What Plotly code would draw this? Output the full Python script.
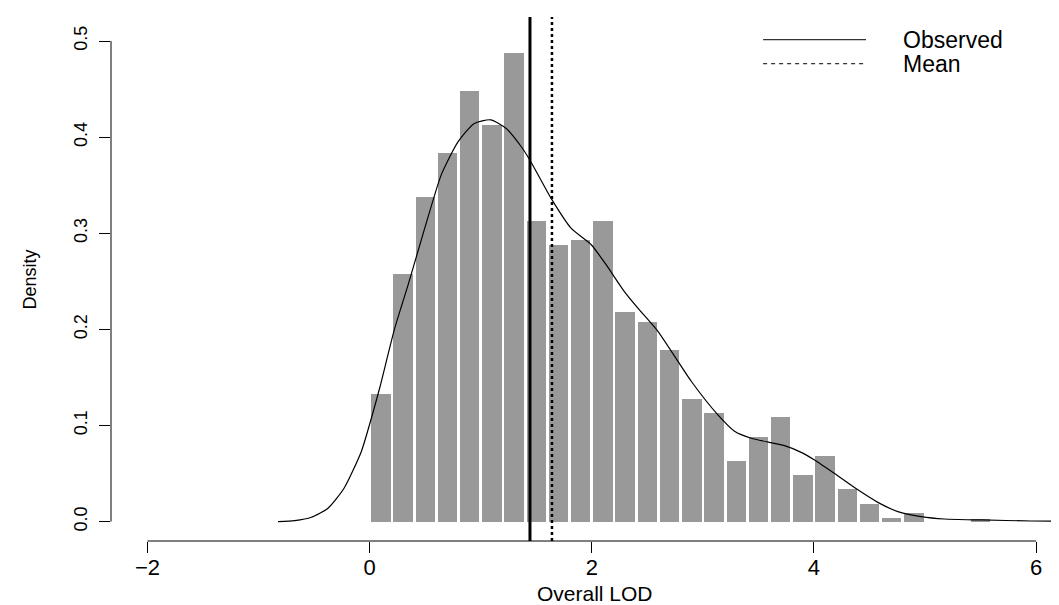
import plotly.graph_objects as go

# ---- data ----
bin_left = [0.0, 0.2, 0.4, 0.6, 0.8, 1.0, 1.2, 1.4, 1.6, 1.8, 2.0, 2.2, 2.4, 2.6,
            2.8, 3.0, 3.2, 3.4, 3.6, 3.8, 4.0, 4.2, 4.4, 4.6, 4.8, 5.0, 5.2, 5.4]
density_hist = [0.133, 0.258, 0.338, 0.383, 0.448, 0.413, 0.488, 0.313, 0.288, 0.293,
                0.313, 0.218, 0.208, 0.179, 0.128, 0.113, 0.0635, 0.0884, 0.1085, 0.0485,
                0.068, 0.0336, 0.0183, 0.0034, 0.0086, 0.0, 0.0, 0.003]
bin_width = 0.2

kde_x = [-0.825, -0.675, -0.525, -0.375, -0.231, -0.075, 0.015, 0.09, 0.225, 0.345,
         0.495, 0.645, 0.795, 0.939, 1.089, 1.23, 1.365, 1.443, 1.635, 1.815, 1.995,
         2.13, 2.295, 2.415, 2.595, 2.895, 3.135, 3.285, 3.435, 3.735, 3.885, 4.005,
         4.185, 4.395, 4.575, 4.755, 4.965, 5.175, 5.505, 5.955, 6.3]
kde_y = [0.0, 0.001, 0.0045, 0.0139, 0.0347, 0.073, 0.1075, 0.139, 0.201, 0.246,
         0.305, 0.361, 0.395, 0.414, 0.418, 0.409, 0.390, 0.376, 0.336, 0.305, 0.288,
         0.267, 0.239, 0.222, 0.198, 0.146, 0.111, 0.094, 0.0867, 0.079, 0.072, 0.064,
         0.050, 0.033, 0.020, 0.0104, 0.0052, 0.0027, 0.0017, 0.0006, 0.0002]

observed_lod = 1.443
mean_lod = 1.641

x_ticks = [-2, 0, 2, 4, 6]
x_tick_labels = ["\u22122", "0", "2", "4", "6"]
y_ticks = [0.0, 0.1, 0.2, 0.3, 0.4, 0.5]
y_tick_labels = ["0.0", "0.1", "0.2", "0.3", "0.4", "0.5"]
legend_labels = ["Observed", "Mean"]

# ---- layout geometry (pixels) ----
W, H = 1059, 605
PL, PR, PT, PB = 102.7, 1059.0, 9.0, 532.7


def px_x(X):
    return (X - PL) / (PR - PL)


def px_y(Y):
    return (PB - Y) / (PB - PT)


FONT = "Liberation Sans, Arial, sans-serif"

bin_centers = [b + bin_width / 2 for b in bin_left]

fig = go.Figure()
fig.add_trace(go.Bar(
    x=bin_centers, y=density_hist, width=bin_width * 0.875,
    marker=dict(color="#999999", line=dict(width=0)),
    showlegend=False, hoverinfo="skip"))
fig.add_trace(go.Scatter(
    x=kde_x, y=kde_y, mode="lines",
    line=dict(color="black", width=1.2, shape="spline", smoothing=0.6),
    showlegend=False, hoverinfo="skip"))

shapes = [
    # vertical reference lines
    dict(type="line", xref="x", yref="paper", x0=observed_lod, x1=observed_lod,
         y0=0, y1=1, line=dict(color="black", width=3)),
    dict(type="line", xref="x", yref="paper", x0=mean_lod, x1=mean_lod,
         y0=0, y1=1, line=dict(color="black", width=2.5, dash="dot")),
    # R-style axis lines spanning the ticks only
    dict(type="line", xref="x", yref="paper", x0=x_ticks[0], x1=x_ticks[-1],
         y0=0, y1=0, line=dict(color="black", width=1)),
    dict(type="line", xref="paper", yref="y", x0=0, x1=0,
         y0=y_ticks[0], y1=y_ticks[-1], line=dict(color="black", width=1)),
    # legend samples
    dict(type="line", xref="paper", yref="paper", x0=px_x(755), x1=px_x(858),
         y0=px_y(31.7), y1=px_y(31.7), line=dict(color="black", width=1)),
    dict(type="line", xref="paper", yref="paper", x0=px_x(755), x1=px_x(858),
         y0=px_y(55.7), y1=px_y(55.7), line=dict(color="black", width=1, dash="4px,4px")),
]

annotations = [
    dict(text="Overall LOD", xref="paper", yref="paper", x=px_x(587), y=px_y(585),
         showarrow=False, xanchor="center", yanchor="middle", height=22,
         font=dict(family=FONT, size=21, color="black")),
    dict(text="Density", xref="paper", yref="paper", x=px_x(22), y=px_y(271),
         showarrow=False, xanchor="center", yanchor="middle", textangle=-90,
         font=dict(family=FONT, size=18, color="black")),
    dict(text=legend_labels[0], xref="paper", yref="paper", x=px_x(893), y=px_y(32),
         showarrow=False, xanchor="left", yanchor="middle", height=22,
         font=dict(family=FONT, size=23, color="black")),
    dict(text=legend_labels[1], xref="paper", yref="paper", x=px_x(893), y=px_y(56),
         showarrow=False, xanchor="left", yanchor="middle", height=22,
         font=dict(family=FONT, size=23, color="black")),
]

fig.update_layout(
    width=W, height=H,
    margin=dict(l=PL, r=W - PR, t=PT, b=H - PB, pad=0),
    paper_bgcolor="white", plot_bgcolor="white",
    bargap=0,
    shapes=shapes, annotations=annotations,
    font=dict(family=FONT, color="black"),
    xaxis=dict(range=[-2.329, 6.278], tickvals=x_ticks, ticktext=x_tick_labels,
               ticks="outside", ticklen=11, tickwidth=1, tickcolor="black",
               ticklabelstandoff=-4,
               showgrid=False, zeroline=False, showline=False,
               tickfont=dict(family=FONT, size=22, color="black")),
    yaxis=dict(range=[-0.0202, 0.525], tickvals=y_ticks, ticktext=y_tick_labels,
               ticks="outside", ticklen=11, tickwidth=1, tickcolor="black",
               tickangle=-90, ticklabelstandoff=5,
               showgrid=False, zeroline=False, showline=False,
               tickfont=dict(family=FONT, size=18, color="black")),
)

fig.write_html("out.html")
